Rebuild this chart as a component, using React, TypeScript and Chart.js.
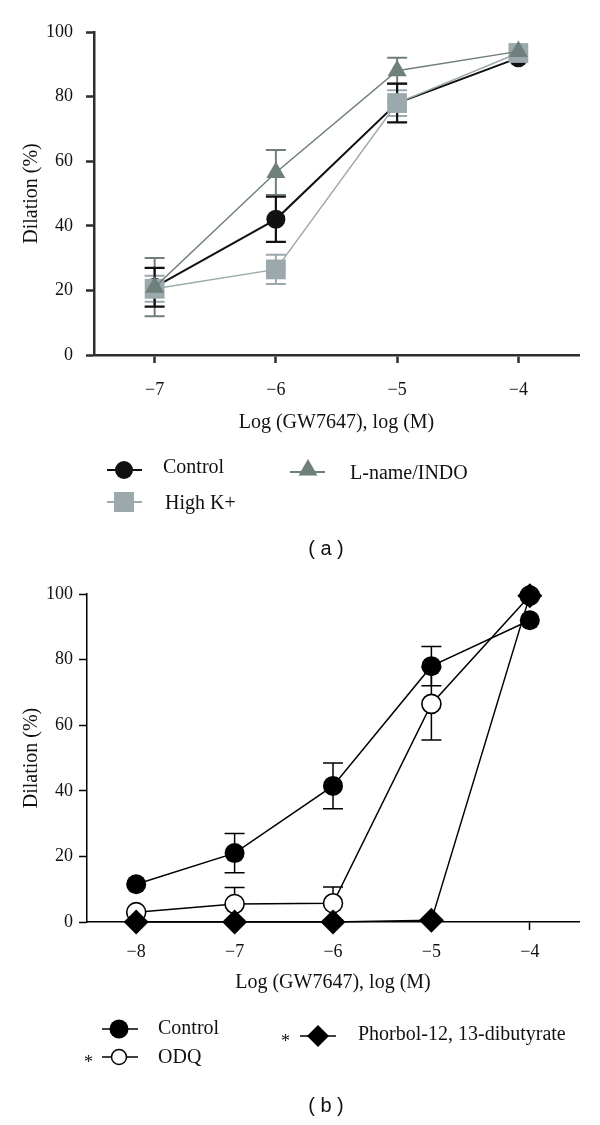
import React, { useEffect, useRef } from "react";
import { Chart, registerables } from "chart.js";

Chart.register(...registerables);

// ---------- data: panel (a) ----------
const doseA = [-7, -6, -5, -4];
const xTicksA = [-7, -6, -5, -4];
const aControl = [21, 42, 78, 92];
const aControlErr = [6, 7, 6, 0];
const aHighK = [20.5, 26.5, 78, 93.5];
const aHighKErr = [4, 4.5, 4, 0];
const aLname = [21, 56.5, 88, 94];
const aLnameErr = [9, 7, 4, 0];

// ---------- data: panel (b) ----------
const doseB = [-8, -7, -6, -5, -4];
const xTicksB = [-8, -7, -6, -5, -4];
const bControl = [11.5, 21, 41.5, 78, 92];
const bControlErr = [0, 6, 7, 6, 0];
const bODQ = [3, 5.5, 5.7, 66.5, 99.5];
const bODQErr = [0, 5, 5, 11, 0];
const bPhorbol = [0, 0, 0, 0.5, 99.5];
const bPhorbolErr = [0, 0, 0, 0, 0];

const yTicks = [0, 20, 40, 60, 80, 100];

const SERIF = "'Liberation Serif', 'Times New Roman', serif";
const HIGHK = "#9ba9ad";
const LNAME = "#6e7f7c";

const fmt = (v: number) => (v < 0 ? "\u2212" + Math.abs(v) : String(v));

const errorBarPlugin = {
  id: "errorBars",
  beforeDatasetsDraw(chart: any) {
    const ctx = chart.ctx;
    const ys = chart.scales.y;
    chart.data.datasets.forEach((ds: any, i: number) => {
      const errs: number[] | undefined = ds.errors;
      if (!errs) return;
      const meta = chart.getDatasetMeta(i);
      ctx.save();
      ctx.strokeStyle = ds.errorColor;
      ctx.lineWidth = ds.errorWidth;
      meta.data.forEach((pt: any, j: number) => {
        const e = errs[j];
        if (!e) return;
        const v = ds.data[j].y;
        const x = pt.x;
        const yHi = ys.getPixelForValue(v + e);
        const yLo = ys.getPixelForValue(v - e);
        const c = ds.capHalf;
        ctx.beginPath();
        ctx.moveTo(x, yHi);
        ctx.lineTo(x, yLo);
        ctx.moveTo(x - c, yHi);
        ctx.lineTo(x + c, yHi);
        ctx.moveTo(x - c, yLo);
        ctx.lineTo(x + c, yLo);
        ctx.stroke();
      });
      ctx.restore();
    });
  },
};

function pts(xs: number[], ys: number[]) {
  return xs.map((x, i) => ({ x, y: ys[i] }));
}

type Geo = {
  yWidth: number;
  xHeight: number;
  padTop: number;
  padRight: number;
  xMin: number;
  xMax: number;
  xTicks: number[];
  axisColor: string;
  axisWidth: number;
  xTickPad: number;
  yTickPad: number;
};

function makeOptions(g: Geo): any {
  return {
    responsive: false,
    animation: false,
    layout: { padding: { top: g.padTop, right: g.padRight, left: 0, bottom: 0 } },
    plugins: { legend: { display: false }, tooltip: { enabled: false } },
    scales: {
      x: {
        type: "linear",
        min: g.xMin,
        max: g.xMax,
        afterBuildTicks: (s: any) => {
          s.ticks = g.xTicks.map((v) => ({ value: v }));
        },
        afterFit: (s: any) => {
          s.height = g.xHeight;
        },
        grid: {
          drawOnChartArea: false,
          drawTicks: true,
          tickLength: 8,
          tickColor: g.axisColor,
          tickWidth: g.axisWidth,
        },
        border: { display: true, color: g.axisColor, width: g.axisWidth },
        ticks: {
          callback: (v: number) => fmt(v),
          color: "#111",
          font: { family: SERIF, size: 18 },
          padding: g.xTickPad,
          maxRotation: 0,
        },
        title: {
          display: true,
          text: "Log (GW7647), log (M)",
          color: "#111",
          font: { family: SERIF, size: 20 },
          padding: { top: 0, bottom: 5 },
        },
      },
      y: {
        type: "linear",
        min: 0,
        max: 100,
        afterBuildTicks: (s: any) => {
          s.ticks = yTicks.map((v) => ({ value: v }));
        },
        afterFit: (s: any) => {
          s.width = g.yWidth;
        },
        grid: {
          drawOnChartArea: false,
          drawTicks: true,
          tickLength: 8,
          tickColor: g.axisColor,
          tickWidth: g.axisWidth,
        },
        border: { display: true, color: g.axisColor, width: g.axisWidth },
        ticks: {
          callback: (v: number) => fmt(v),
          color: "#111",
          font: { family: SERIF, size: 18 },
          padding: g.yTickPad,
        },
        title: {
          display: true,
          text: "Dilation (%)",
          color: "#111",
          font: { family: SERIF, size: 20 },
          padding: { top: 20, bottom: 0 },
        },
      },
    },
  };
}

function ChartA() {
  const ref = useRef<HTMLCanvasElement>(null);
  useEffect(() => {
    if (!ref.current) return;
    const chart = new Chart(ref.current, {
      type: "line",
      data: {
        datasets: [
          {
            label: "L-name/INDO",
            data: pts(doseA, aLname),
            errors: aLnameErr,
            errorColor: LNAME,
            errorWidth: 2,
            capHalf: 10,
            borderColor: LNAME,
            borderWidth: 1.5,
            backgroundColor: LNAME,
            pointStyle: "triangle",
            pointRadius: 11,
            pointBorderWidth: 0,
            pointBackgroundColor: LNAME,
            clip: false,
            order: 0,
          } as any,
          {
            label: "High K+",
            data: pts(doseA, aHighK),
            errors: aHighKErr,
            errorColor: HIGHK,
            errorWidth: 2,
            capHalf: 10,
            borderColor: HIGHK,
            borderWidth: 1.5,
            backgroundColor: HIGHK,
            pointStyle: "rect",
            pointRadius: 14,
            pointBorderWidth: 0,
            pointBackgroundColor: HIGHK,
            clip: false,
            order: 1,
          } as any,
          {
            label: "Control",
            data: pts(doseA, aControl),
            errors: aControlErr,
            errorColor: "#111",
            errorWidth: 2.2,
            capHalf: 10,
            borderColor: "#111",
            borderWidth: 2,
            backgroundColor: "#111",
            pointStyle: "circle",
            pointRadius: 9.5,
            pointBorderWidth: 0,
            pointBackgroundColor: "#111",
            clip: false,
            order: 2,
          } as any,
        ],
      },
      options: makeOptions({
        yWidth: 94,
        xHeight: 85,
        padTop: 32,
        padRight: 21,
        xMin: -7.5,
        xMax: -3.5,
        xTicks: xTicksA,
        axisColor: "#2e2e2e",
        axisWidth: 2.5,
        xTickPad: 16,
        yTickPad: 13,
      }),
      plugins: [errorBarPlugin],
    });
    return () => chart.destroy();
  }, []);
  return (
    <canvas
      ref={ref}
      width={600}
      height={440}
      style={{ position: "absolute", left: 0, top: 0, width: 600, height: 440 }}
    />
  );
}

function ChartB() {
  const ref = useRef<HTMLCanvasElement>(null);
  useEffect(() => {
    if (!ref.current) return;
    const chart = new Chart(ref.current, {
      type: "line",
      data: {
        datasets: [
          {
            label: "Phorbol-12, 13-dibutyrate",
            data: pts(doseB, bPhorbol),
            errors: bPhorbolErr,
            errorColor: "#000",
            errorWidth: 1.5,
            capHalf: 10,
            borderColor: "#000",
            borderWidth: 1.5,
            backgroundColor: "#000",
            pointStyle: "rectRot",
            pointRadius: 12.5,
            pointBorderWidth: 0,
            pointBackgroundColor: "#000",
            clip: false,
            order: 0,
          } as any,
          {
            label: "ODQ",
            data: pts(doseB, bODQ),
            errors: bODQErr,
            errorColor: "#000",
            errorWidth: 1.5,
            capHalf: 10,
            borderColor: "#000",
            borderWidth: 1.5,
            backgroundColor: "#fff",
            pointStyle: "circle",
            pointRadius: 9.5,
            pointBorderWidth: 1.6,
            pointBorderColor: "#000",
            pointBackgroundColor: "#fff",
            clip: false,
            order: 1,
          } as any,
          {
            label: "Control",
            data: pts(doseB, bControl),
            errors: bControlErr,
            errorColor: "#000",
            errorWidth: 1.5,
            capHalf: 10,
            borderColor: "#000",
            borderWidth: 1.5,
            backgroundColor: "#000",
            pointStyle: "circle",
            pointRadius: 10,
            pointBorderWidth: 0,
            pointBackgroundColor: "#000",
            clip: false,
            order: 2,
          } as any,
        ],
      },
      options: makeOptions({
        yWidth: 87,
        xHeight: 78,
        padTop: 34,
        padRight: 21,
        xMin: -8.5,
        xMax: -3.5,
        xTicks: xTicksB,
        axisColor: "#000",
        axisWidth: 1.5,
        xTickPad: 11,
        yTickPad: 6,
      }),
      plugins: [errorBarPlugin],
    });
    return () => chart.destroy();
  }, []);
  return (
    <canvas
      ref={ref}
      width={600}
      height={440}
      style={{ position: "absolute", left: 0, top: 560, width: 600, height: 440 }}
    />
  );
}

const textStyle = (left: number, cy: number): React.CSSProperties => ({
  position: "absolute",
  left,
  top: cy - 12,
  fontFamily: SERIF,
  fontSize: 20,
  lineHeight: "24px",
  color: "#111",
  whiteSpace: "nowrap",
});

const capStyle = (cy: number): React.CSSProperties => ({
  position: "absolute",
  left: 0,
  width: 652,
  top: cy - 11,
  textAlign: "center",
  fontFamily: "'Liberation Sans', Arial, sans-serif",
  fontSize: 20,
  lineHeight: "22px",
  color: "#111",
  whiteSpace: "pre",
});

function triPath(cx: number, cy: number, r: number) {
  const h = r * 0.866;
  return `M ${cx} ${cy - r} L ${cx + h} ${cy + r / 2} L ${cx - h} ${cy + r / 2} Z`;
}

function diamondPath(cx: number, cy: number, r: number) {
  return `M ${cx} ${cy - r} L ${cx + r} ${cy} L ${cx} ${cy + r} L ${cx - r} ${cy} Z`;
}

function Legends() {
  return (
    <>
      <svg
        width={600}
        height={1125}
        style={{ position: "absolute", left: 0, top: 0, pointerEvents: "none" }}
      >
        {/* panel a */}
        <line x1={107} y1={470} x2={142} y2={470} stroke="#111" strokeWidth={2} />
        <circle cx={124} cy={470} r={9} fill="#111" />
        <line x1={107} y1={502} x2={142} y2={502} stroke={HIGHK} strokeWidth={2} />
        <rect x={114} y={492} width={20} height={20} fill={HIGHK} />
        <line x1={290} y1={472} x2={325} y2={472} stroke={LNAME} strokeWidth={2} />
        <path d={triPath(308, 470, 11)} fill={LNAME} />
        {/* panel b */}
        <line x1={102} y1={1029} x2={138} y2={1029} stroke="#000" strokeWidth={1.5} />
        <circle cx={119} cy={1029} r={9.5} fill="#000" />
        <line x1={102} y1={1057} x2={138} y2={1057} stroke="#000" strokeWidth={1.5} />
        <circle cx={119} cy={1057} r={7.5} fill="#fff" stroke="#000" strokeWidth={1.5} />
        <line x1={300} y1={1036} x2={336} y2={1036} stroke="#000" strokeWidth={1.5} />
        <path d={diamondPath(318, 1036, 11)} fill="#000" />
      </svg>
      <span style={textStyle(163, 466)}>Control</span>
      <span style={textStyle(165, 502)}>High K+</span>
      <span style={textStyle(350, 472)}>L-name/INDO</span>
      <span style={capStyle(548)}>( a )</span>

      <span style={textStyle(158, 1027)}>Control</span>
      <span style={textStyle(158, 1056)}>ODQ</span>
      <span style={{ ...textStyle(84, 1062), fontSize: 18 }}>*</span>
      <span style={textStyle(358, 1033)}>Phorbol-12, 13-dibutyrate</span>
      <span style={{ ...textStyle(281, 1041), fontSize: 18 }}>*</span>
      <span style={capStyle(1105)}>( b )</span>
    </>
  );
}

export default function App() {
  return (
    <div
      style={{
        position: "absolute",
        left: 0,
        top: 0,
        width: 600,
        height: 1125,
        background: "#fff",
        overflow: "hidden",
      }}
    >
      <ChartA />
      <ChartB />
      <Legends />
    </div>
  );
}
